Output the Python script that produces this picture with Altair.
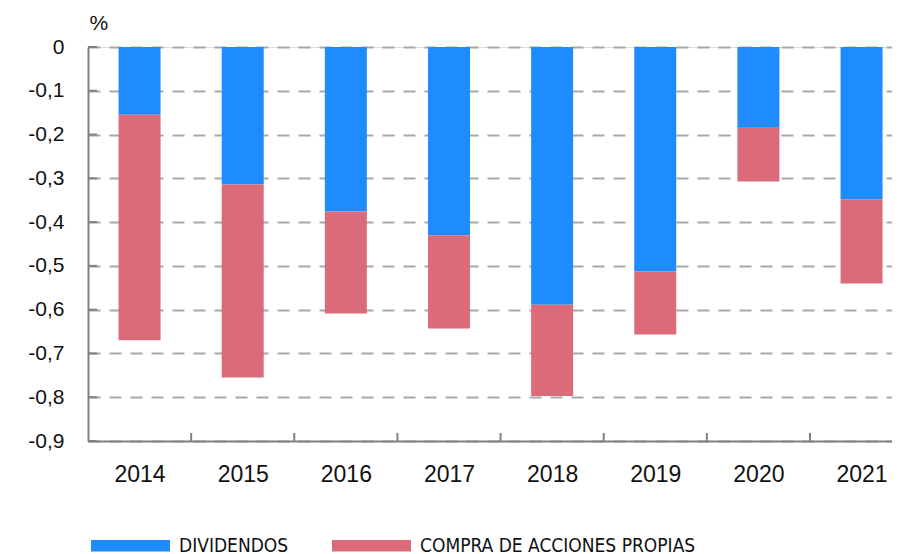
import altair as alt
import pandas as pd

years = [2014, 2015, 2016, 2017, 2018, 2019, 2020, 2021]
dividendos = [-0.155, -0.314, -0.376, -0.430, -0.589, -0.513, -0.183, -0.348]
compra = [-0.515, -0.441, -0.233, -0.213, -0.208, -0.144, -0.124, -0.192]
series = ["DIVIDENDOS", "COMPRA DE ACCIONES PROPIAS"]
colors = ["#1E8CFF", "#DB6B79"]
y_ticks = [0, -0.1, -0.2, -0.3, -0.4, -0.5, -0.6, -0.7, -0.8, -0.9]

rows = []
for i, yr in enumerate(years):
    rows.append({"year": yr, "serie": series[0], "value": dividendos[i], "ord": 0})
    rows.append({"year": yr, "serie": series[1], "value": compra[i], "ord": 1})
df = pd.DataFrame(rows)

W = 804
H = 394
FONT = "Liberation Sans, Arial, sans-serif"
NARROW = "Liberation Sans Narrow, DejaVu Sans Condensed, sans-serif"

# one year = 103.14 px
x_scale = alt.Scale(domain=[2013.5, 2013.5 + W / 103.14], nice=False, zero=False, padding=0)
y_scale = alt.Scale(domain=[-0.9, 0], nice=False, padding=0)

x_axis = alt.Axis(values=years, format="d", ticks=False, tickSize=0, labelAngle=0,
                  labelFont=FONT, labelFontSize=23, labelColor="#111111",
                  labelPadding=22, domainColor="#808080", domainWidth=2, grid=False,
                  labelFlush=False, labelOverlap=False)
y_axis = alt.Axis(values=y_ticks, ticks=False, tickSize=0,
                  labelExpr="datum.value == 0 ? '0' : '-0,' + round(abs(datum.value) * 10)",
                  labelFont=FONT, labelFontSize=21, labelColor="#111111",
                  labelPadding=24, domainColor="#808080", domainWidth=2,
                  grid=True, gridColor="#A8A8A8", gridDash=[12, 9], gridWidth=2,
                  titleAngle=0, titleAlign="left", titleBaseline="alphabetic",
                  titleX=1, titleY=-18, titleFont=FONT, titleFontSize=21,
                  titleFontWeight="normal", titleColor="#111111", labelFlush=False)

bars = alt.Chart(df).mark_bar(size=42).encode(
    x=alt.X("year:Q", scale=x_scale, title=None, axis=x_axis),
    y=alt.Y("value:Q", stack="zero", scale=y_scale, title="%", axis=y_axis),
    color=alt.Color("serie:N", scale=alt.Scale(domain=series, range=colors),
                    legend=alt.Legend(title=None, orient="none", legendX=3, legendY=459,
                                      direction="horizontal", padding=0,
                                      symbolType="M-1,-0.145H1V0.145H-1Z", symbolSize=6241,
                                      symbolStrokeWidth=0, symbolOpacity=1,
                                      labelFont=NARROW, labelFontSize=19, labelColor="#111111",
                                      labelOffset=9, columnPadding=43, labelLimit=600)),
    order=alt.Order("ord:Q"),
)

ytick_df = pd.DataFrame({"value": y_ticks})
yticks = alt.Chart(ytick_df).mark_rule(color="#808080", strokeWidth=2).encode(
    y=alt.Y("value:Q", scale=y_scale, title="%"), x=alt.value(0), x2=alt.value(9)
)

xtick_df = pd.DataFrame({"year": [y + 0.5 for y in years[:-1]]})
xticks = alt.Chart(xtick_df).mark_rule(color="#808080", strokeWidth=2).encode(
    x=alt.X("year:Q", scale=x_scale, title=None), y=alt.value(H - 8), y2=alt.value(H)
)

chart = alt.layer(bars, yticks, xticks).properties(
    width=W, height=H,
    autosize=alt.AutoSizeParams(type="none"),
    padding={"left": 80, "top": 39, "right": 0, "bottom": 113},
).configure_view(stroke=None).configure(background="white")

chart.save("out.html", embed_options={"renderer": "svg", "actions": False})
